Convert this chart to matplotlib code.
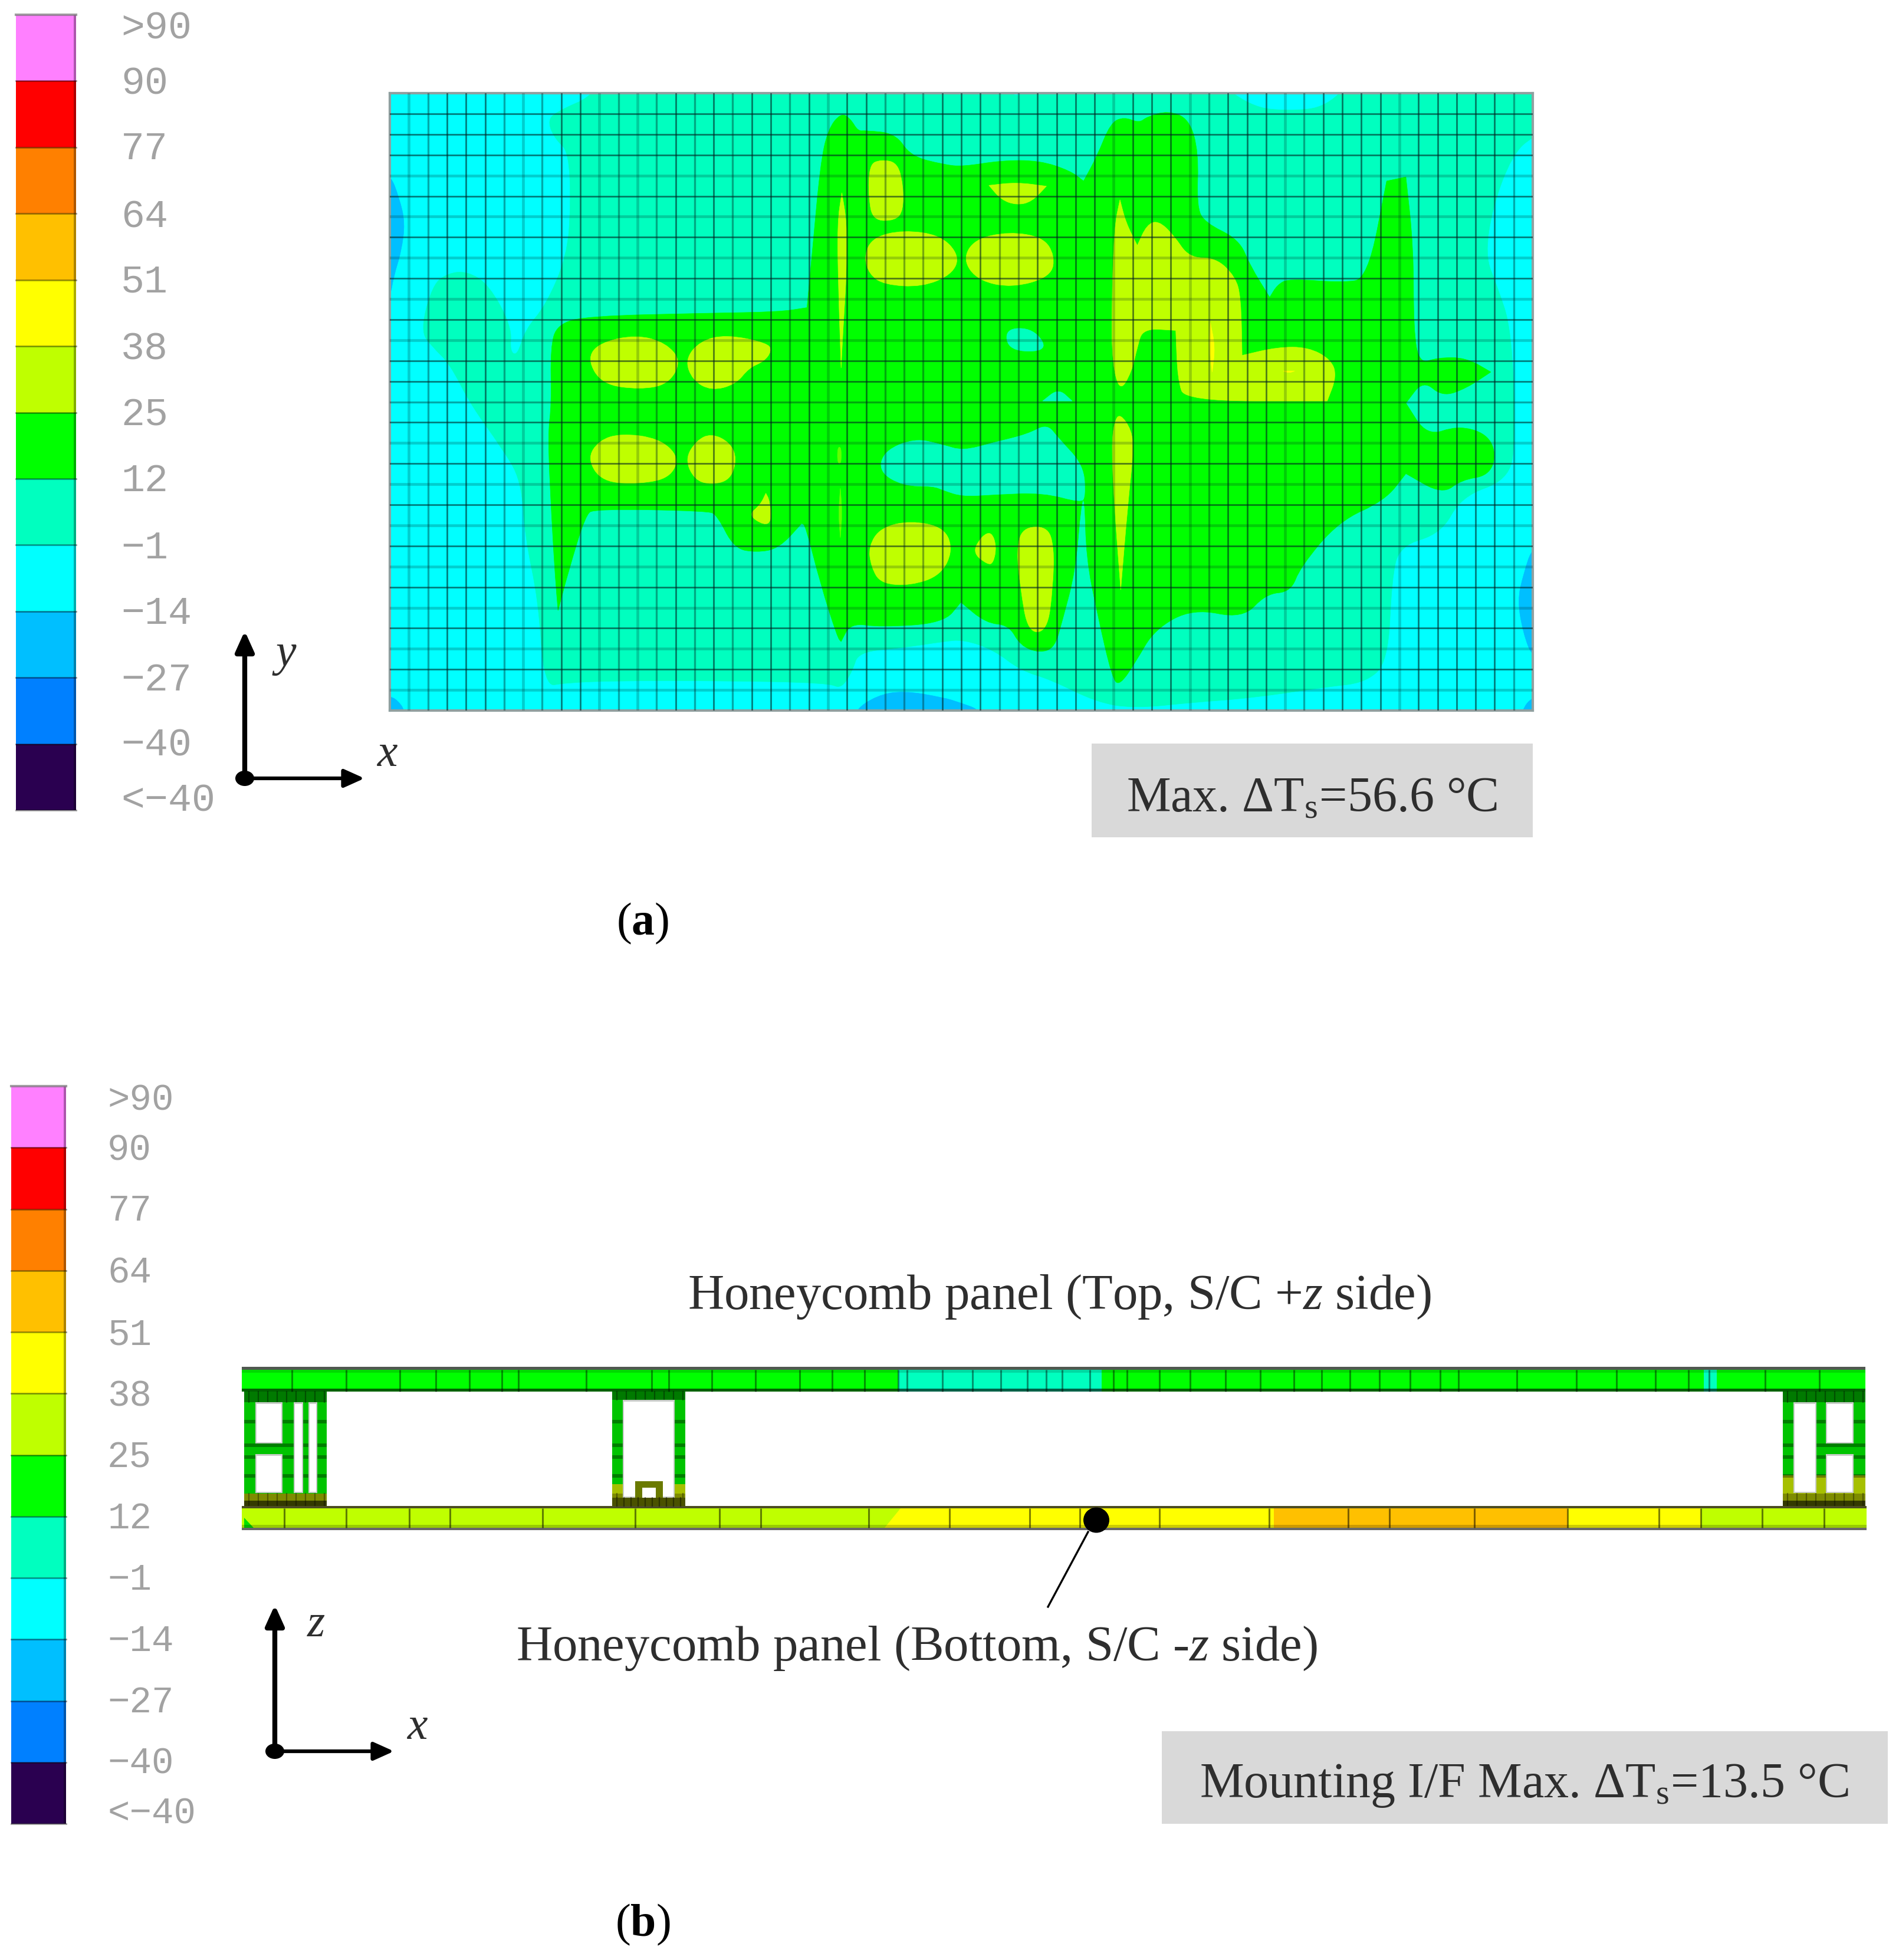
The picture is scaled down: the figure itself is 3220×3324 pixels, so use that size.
#!/usr/bin/env python3
"""Spacecraft panel temperature maps: (a) x-y plate view, (b) x-z section."""
import numpy as np
import matplotlib
matplotlib.use('Agg')
import matplotlib.pyplot as plt
from matplotlib.patches import PathPatch, Rectangle, Ellipse, Polygon
from matplotlib.path import Path

plt.rcParams['font.family'] = ['Liberation Serif', 'DejaVu Serif']
plt.rcParams['mathtext.fontset'] = 'custom'
plt.rcParams['mathtext.rm'] = 'Liberation Serif'
plt.rcParams['mathtext.it'] = 'Liberation Serif:italic'
plt.rcParams['mathtext.bf'] = 'Liberation Serif:bold'

# ---------------------------------------------------------------- legend
level_labels = ['>90', '90', '77', '64', '51', '38', '25', '12', '\u22121', '\u221214', '\u221227', '\u221240', '<\u221240']
level_colors = ['#FF80FF', '#FF0000', '#FF8000', '#FFC000', '#FFFF00', '#BFFF00', '#00FF00',
                '#00FFBF', '#00FFFF', '#00BFFF', '#0080FF', '#2A0050']

# ---------------------------------------------------------------- panel (a), mesh units (col, row from top)
mesh_cols = 60
mesh_rows = 30
mesh_col_weight = 'LMDDDMLMDDLMLMDMDMDDMDLDDMMMDD' + 'DMMDDDDLDDDLMDDDLMDDDDLDDDDDM'
mesh_row_weight = 'DDDLDLDLDLDLDDMDLDLDLDLDLDLDL'

region_spring = [(11.0, -2), (11.0, 0), (8.6, 0.95), (8.3, 1.45), (8.7, 2.25), (9.4, 2.85), (9.5, 5.5), (9.3, 7.9),
                 (8.2, 10.3), (7.1, 11.5), (6.7, 12.75), (6.3, 12.55), (6.4, 11.35), (5.2, 9.3), (4.05, 8.65),
                 (3.05, 8.75), (2.25, 9.3), (1.6, 11.55), (2.25, 12.35), (3.15, 13.15), (4.25, 15.15), (5.85, 17.2),
                 (6.9, 18.8), (7.1, 21.6), (7.8, 24.65), (8.1, 28.85), (9.2, 28.65), (12.1, 28.55), (17.1, 28.55),
                 (23.0, 28.65), (23.7, 28.95), (24.3, 28.05), (24.6, 27.15), (26.95, 26.95), (29.05, 26.65),
                 (30.1, 26.55), (31.7, 27.05), (33.1, 28.05), (34.7, 28.5), (37.1, 29.6), (39.1, 29.9), (42.2, 29.6),
                 (45.2, 29.4), (49.2, 28.85), (51.2, 28.65), (52.4, 27.65), (52.6, 23.6), (53.0, 22.0), (55.2, 21.4),
                 (56.25, 19.6), (58.7, 18.8), (59.1, 17.0), (58.9, 11.5), (58.1, 9.3), (57.5, 7.9), (57.9, 5.5),
                 (58.9, 3.05), (60, 2.05), (62, 1.5), (62, -2)]

region_green = [(23.69, 0.95), (23.0, 1.75), (22.6, 3.47), (22.2, 7.5), (21.9, 10.42), (21.9, 10.42), (20.43, 10.63),
                (16.68, 10.69), (10.37, 10.83), (8.79, 11.23), (8.43, 12.34), (8.49, 15.16), (8.29, 16.57),
                (8.49, 20.6), (8.69, 23.63), (8.83, 25.14), (8.83, 25.14), (9.38, 23.23), (10.27, 20.5), (10.76, 20.2),
                (16.68, 20.3), (17.18, 20.5), (18.07, 22.12), (19.25, 22.32), (20.43, 22.12), (21.62, 20.91),
                (21.62, 20.91), (21.82, 21.0), (22.6, 23.83), (23.5, 26.45), (23.69, 26.65), (23.69, 26.65),
                (24.19, 25.75), (25.76, 25.95), (29.07, 25.75), (29.98, 24.74), (29.98, 24.74), (31.29, 25.75),
                (32.5, 25.85), (33.1, 26.85), (34.1, 27.2), (34.9, 26.95), (35.3, 25.65), (36.0, 23.2), (36.28, 20.0),
                (36.48, 19.6), (36.56, 22.6), (37.13, 25.25), (37.93, 28.47), (38.33, 28.77), (39.14, 27.66),
                (40.15, 26.05), (42.16, 25.04), (44.78, 25.54), (45.99, 24.33), (47.3, 24.23), (47.8, 23.02),
                (49.82, 20.8), (52.23, 19.8), (53.34, 18.49), (53.34, 18.49), (55.25, 19.5), (56.26, 18.79), (57.67, 18.59),
                (58.1, 17.58), (57.6, 16.55), (56.06, 16.15), (54.45, 16.67), (53.34, 15.06), (53.34, 15.06), (54.25, 13.95),
                (55.25, 14.75), (56.5, 14.35), (57.8, 13.55), (57.8, 13.55), (56.5, 12.85), (55.0, 12.85), (54.05, 13.15), (53.74, 11.53),
                (53.74, 7.5), (53.34, 4.07), (53.34, 4.07), (52.33, 4.27), (52.33, 4.27), (51.33, 9.01), (50.02, 9.21), (47.2, 9.01),
                (46.59, 9.31), (46.19, 9.92), (46.19, 9.92), (45.18, 8.41), (44.58, 7.1), (42.77, 6.29), (42.36, 5.48), (42.46, 2.86),
                (41.96, 1.25), (40.85, 0.85), (39.74, 1.15), (39.34, 1.45), (38.54, 1.15), (37.83, 1.45), (37.13, 3.06),
                (36.42, 4.27), (36.42, 4.27), (35.72, 3.77), (34.1, 3.27), (32.09, 3.27), (30.08, 3.57), (29.07, 3.47), (27.34, 3.06),
                (26.55, 1.96), (24.98, 1.81), (24.58, 1.85), (24.19, 1.25)]

spring_holes = [
    [(25.67, 18.39), (25.96, 17.38), (27.54, 16.77), (29.02, 17.08), (30.08, 17.38), (31.69, 16.98), (33.5, 16.57),
     (34.5, 16.07), (35.1, 16.77), (36.42, 18.08), (36.52, 19.6), (36.28, 19.9), (34.3, 19.4), (31.69, 19.5),
     (30.08, 19.6), (29.07, 19.3), (28.53, 19.09), (26.95, 19.09)],
    [(32.29, 11.43), (33.8, 11.43), (34.6, 12.54), (32.5, 12.54)],
    [(34.27, 14.96), (34.27, 14.96), (35.1, 14.35), (35.82, 14.96), (35.82, 14.96)],
]

blobs_limegreen = [
    [(25.17, 3.47), (25.77, 3.23), (26.65, 3.37), (26.95, 4.48), (26.95, 5.69), (26.55, 6.19), (25.37, 6.19), (25.13, 5.08)],
    [(23.73, 4.84), (23.73, 4.84), (23.99, 6.29), (23.99, 8.51), (23.79, 11.53), (23.69, 13.35), (23.69, 13.35), (23.55, 9.52), (23.49, 6.29)],
    [(24.88, 7.9), (25.37, 7.0), (26.95, 6.65), (28.92, 6.9), (29.91, 7.9), (29.52, 8.81), (27.94, 9.42), (25.96, 9.31), (25.17, 8.81)],
    [(30.08, 8.1), (30.68, 7.1), (32.5, 6.73), (34.3, 7.0), (34.91, 7.9), (34.71, 8.91), (32.7, 9.46), (30.88, 9.11)],
    [(31.45, 4.48), (31.45, 4.48), (32.9, 4.33), (34.47, 4.52), (34.47, 4.52), (33.7, 5.28), (32.9, 5.44), (32.09, 5.18)],
    [(10.37, 12.94), (10.96, 12.14), (12.93, 11.73), (14.51, 12.14), (15.3, 13.04), (14.61, 14.15), (13.13, 14.4), (11.15, 14.15)],
    [(15.5, 12.94), (16.29, 12.04), (17.67, 11.73), (19.84, 12.14), (20.04, 12.54), (19.64, 13.04), (18.85, 13.35),
     (18.16, 14.15), (16.88, 14.46), (15.89, 13.95)],
    [(10.37, 17.78), (10.96, 16.88), (12.14, 16.53), (14.12, 16.77), (15.2, 17.68), (14.71, 18.69), (13.13, 18.99), (11.15, 18.89)],
    [(15.5, 17.78), (16.09, 16.88), (16.88, 16.53), (17.87, 16.98), (18.22, 17.78), (17.87, 18.79), (16.88, 19.03), (15.99, 18.79)],
    [(18.82, 20.5), (19.45, 20.0), (19.74, 19.44), (19.74, 19.44), (19.94, 19.8), (20.04, 20.81), (19.64, 21.0)],
    [(25.13, 22.02), (25.77, 21.11), (27.34, 20.77), (29.12, 21.11), (29.56, 22.22), (28.92, 23.43), (27.34, 23.93), (25.77, 23.83), (25.27, 23.02)],
    [(30.58, 22.32), (31.08, 21.51), (31.59, 21.31), (31.85, 22.02), (31.69, 22.82), (31.39, 22.92)],
    [(32.9, 22.22), (33.2, 21.11), (34.51, 21.05), (34.87, 22.02), (34.81, 24.03), (34.51, 26.15), (33.5, 26.21), (33.1, 24.03)],
    [(38.33, 5.18), (38.33, 5.18), (38.64, 6.29), (39.24, 7.4), (39.24, 7.4), (39.74, 6.39), (40.35, 6.19), (41.15, 6.9), (41.96, 8.0),
     (43.37, 8.0), (44.38, 8.91), (44.68, 9.92), (44.74, 12.74), (44.74, 12.74), (46.59, 12.34), (48.2, 12.34), (49.41, 12.94),
     (49.71, 13.75), (49.21, 14.96), (49.21, 14.96), (41.76, 14.96), (41.36, 13.95), (41.26, 11.53), (41.26, 11.53), (39.54, 11.43),
     (39.24, 12.34), (38.94, 13.55), (38.33, 14.52), (37.93, 13.15), (37.89, 10.52), (38.03, 6.49)],
    [(38.33, 15.56), (38.94, 16.37), (39.04, 17.38), (38.74, 20.0), (38.37, 24.13), (38.37, 24.13), (38.03, 20.0), (37.89, 17.18), (38.03, 15.97)],
]
blobs_faint = [
    [(23.5, 17.2), (23.7, 17.2), (23.7, 18.0), (23.5, 18.0)],
    [(23.65, 19.2), (23.65, 19.2), (23.75, 20.4), (23.65, 21.6), (23.65, 21.6), (23.55, 20.4)],
]
blobs_yellow = [
    [(43.07, 11.13), (43.07, 11.13), (43.33, 12.34), (43.17, 13.55), (43.17, 13.55), (43.0, 12.34)],
    [(46.9, 13.5), (46.9, 13.5), (47.5, 13.5), (47.5, 13.5), (47.2, 13.6)],
]
patches_cyan = [
    [(31.9, -1), (32.9, 0.45), (34.1, -1)],
    [(42.9, -1), (45.2, 0.65), (47.2, 0.85), (49.2, 0.65), (50.8, -1)],
    [(59.6, -1), (60.3, 0.7), (61, -1)],
]
patches_blue = [
    [(-1, 3.9), (0, 3.9), (0.5, 5.1), (0.8, 6.3), (0.6, 7.7), (0.2, 8.9), (0, 10), (-1, 10)],
    [(24.38, 31), (24.38, 30), (25.57, 29.27), (26.95, 29.03), (29.07, 29.37), (29.88, 29.6), (31.08, 30), (31.08, 31)],
    [(61, 22), (60, 22), (59.5, 23.4), (59.2, 24.65), (59.5, 26.25), (60, 27.45), (61, 27.45)],
    [(-1, 29.3), (0, 29.3), (0.4, 29.5), (0.8, 30), (0.8, 31), (-1, 31)],
    [(61, 29.3), (60, 29.3), (59.4, 30), (59.4, 31), (61, 31)],
]

# ---------------------------------------------------------------- panel (b), section along x
top_mesh_x = [495, 587, 678, 739, 796, 851, 879, 994, 1105, 1134, 1207, 1281, 1356, 1411, 1466, 1523, 1538, 1598, 1649,
              1697, 1742, 1774, 1801, 1848, 1888, 1911, 1966, 2018, 2078, 2137, 2194, 2241, 2289, 2339, 2391, 2442,
              2473, 2572, 2673, 2741, 2807, 2863, 2898, 2993, 3085]
bottom_mesh_x = [482, 587, 694, 763, 920, 1077, 1220, 1290, 1473, 1610, 1746, 1831, 1966, 2152, 2286, 2356, 2500, 2658,
                 2813, 2884, 2988, 3093]
top_bands_x = [410, 1523, 1868, 2889, 2911, 3163]
top_bands_color = ['#00FF00', '#00FFBF', '#00FF00', '#00FFBF', '#00FF00']
bottom_bands_x = [410, 1527, 2160, 2658, 2884, 3165]
bottom_bands_color = ['#BFFF00', '#FFFF00', '#FFC000', '#FFFF00', '#BFFF00']


def smooth_patch(points, color, zorder=2):
    # quadratic segments through edge midpoints, a repeated point keeps a sharp tip
    p = np.asarray(points, dtype=float)
    mids = (p + np.roll(p, -1, axis=0)) / 2
    verts = [mids[-1]]
    codes = [Path.MOVETO]
    for i in range(len(p)):
        verts += [p[i], mids[i]]
        codes += [Path.CURVE3, Path.CURVE3]
    verts.append(mids[-1])
    codes.append(Path.CLOSEPOLY)
    return PathPatch(Path(verts, codes), facecolor=color, edgecolor=color, lw=0.5, zorder=zorder)


W, H = 3220, 3324
fig = plt.figure(figsize=(W / 100, H / 100), dpi=100, facecolor='white')
ax = fig.add_axes([0, 0, 1, 1])
ax.set_xlim(0, W)
ax.set_ylim(H, 0)
ax.axis('off')

TICK_GRAY = '#A2A2A2'
INK = '#2E2E2E'


def draw_legend(x0, x1, y_edges, label_x, label_y, size):
    for i, c in enumerate(level_colors):
        ax.add_patch(Rectangle((x0, y_edges[i]), x1 - x0, y_edges[i + 1] - y_edges[i], facecolor=c, edgecolor='none'))
        # darker strip at right side and separator, as in the screen capture
        ax.add_patch(Rectangle((x1 - 4, y_edges[i]), 4, y_edges[i + 1] - y_edges[i], facecolor='k', alpha=0.32, edgecolor='none'))
        ax.plot([x0, x1], [y_edges[i + 1]] * 2, color='k', alpha=0.4, lw=2)
    ax.plot([x0, x1], [y_edges[0]] * 2, color='#777777', alpha=0.7, lw=3)
    for t, y in zip(level_labels, label_y):
        ax.text(label_x, y, t, family='Liberation Mono', fontsize=size, color=TICK_GRAY, va='center', ha='left')


def draw_axes_mark(ox, oy, top, right, v_name, v_pos, h_name, h_pos):
    ax.annotate('', xy=(ox, top), xytext=(ox, oy),
                arrowprops=dict(arrowstyle='-|>,head_width=0.36,head_length=0.8', mutation_scale=26, lw=6,
                                color='black', shrinkA=0, shrinkB=0))
    ax.annotate('', xy=(right, oy), xytext=(ox, oy),
                arrowprops=dict(arrowstyle='-|>,head_width=0.36,head_length=0.8', mutation_scale=26, lw=4.5,
                                color='black', shrinkA=0, shrinkB=0))
    ax.add_patch(Ellipse((ox, oy), 32, 26, facecolor='black', edgecolor='none', zorder=5))
    ax.text(v_pos[0], v_pos[1], '$\\mathit{%s}$' % v_name, fontsize=56, color=INK, ha='center', va='center')
    ax.text(h_pos[0], h_pos[1], '$\\mathit{%s}$' % h_name, fontsize=56, color=INK, ha='center', va='center')


# ================================================================ panel (a)
draw_legend(27, 129, np.linspace(25, 1374, 13),
            205, [49, 142, 253, 368, 479, 593, 704, 816, 930, 1041, 1154, 1265, 1358], 48)
draw_axes_mark(415, 1320, 1070, 618, 'y', (483, 1112), 'x', (657, 1280))

ax_a = fig.add_axes([661 / W, 1 - 1205 / H, (2599 - 661) / W, (1205 - 158) / H])
ax_a.set_xlim(0, mesh_cols)
ax_a.set_ylim(mesh_rows, 0)
ax_a.set_xticks([])
ax_a.set_yticks([])
ax_a.set_facecolor('#00FFFF')
for s in ax_a.spines.values():
    s.set_color('#8FA0A0')
    s.set_linewidth(3)

ax_a.add_patch(smooth_patch(region_spring, '#00FFBF', 2))
for pts in patches_cyan:
    ax_a.add_patch(smooth_patch(pts, '#00FFFF', 2.1))
for pts in patches_blue:
    ax_a.add_patch(smooth_patch(pts, '#00BFFF', 2.2))
ax_a.add_patch(smooth_patch(region_green, '#00FF00', 3))
for pts in spring_holes:
    ax_a.add_patch(smooth_patch(pts, '#00FFBF', 3.1))
for pts in blobs_limegreen:
    ax_a.add_patch(smooth_patch(pts, '#BFFF00', 4))
for pts in blobs_faint:
    ax_a.add_patch(smooth_patch(pts, '#60FF00', 4))
for pts in blobs_yellow:
    ax_a.add_patch(smooth_patch(pts, '#FFFF00', 5))

weight_style = {'D': (2.0, 0.58), 'M': (2.4, 0.38), 'L': (3.4, 0.22)}
for i, w in enumerate(mesh_col_weight):
    lw, al = weight_style[w]
    ax_a.axvline(i + 1, color='#002020', lw=lw, alpha=al, zorder=6)
for i, w in enumerate(mesh_row_weight):
    lw, al = weight_style[w]
    ax_a.axhline(i + 1, color='#002020', lw=lw, alpha=al, zorder=6)

ax.add_patch(Rectangle((1851, 1261), 748, 159, facecolor='#D9D9D9', edgecolor='none'))
ax.text(2225, 1355, 'Max. \u0394T$_{\\mathrm{s}}$=56.6 \u00b0C', fontsize=60.5, color=INK, ha='center', va='center')
ax.text(1090, 1566, '($\\mathbf{a}$)', fontsize=56, color='black', ha='center', va='center')

# ================================================================ panel (b)
draw_legend(19, 112, np.linspace(1842, 3093, 13),
            182, [1866, 1951, 2054, 2159, 2264, 2368, 2472, 2576, 2680, 2783, 2887, 2991, 3076], 45)
draw_axes_mark(466, 2970, 2722, 668, 'z', (536, 2756), 'x', (708, 2930))


def block_rect(x0, x1, y0, y1, color, z=2, alpha=1.0):
    ax.add_patch(Rectangle((x0, y0), x1 - x0, y1 - y0, facecolor=color, edgecolor='none', zorder=z, alpha=alpha))


# top honeycomb plate
for x0, x1, c in zip(top_bands_x[:-1], top_bands_x[1:], top_bands_color):
    block_rect(x0, x1, 2323, 2360, c)
block_rect(410, 3163, 2318, 2323, '#505850', 3)
block_rect(410, 3163, 2323, 2328, 'k', 3, 0.15)
block_rect(410, 3163, 2355, 2360, 'k', 3, 0.62)
for x in top_mesh_x:
    ax.plot([x, x], [2323, 2360], color='k', lw=2.2, alpha=0.42, zorder=4, solid_capstyle='butt')

# bottom honeycomb plate
for x0, x1, c in zip(bottom_bands_x[:-1], bottom_bands_x[1:], bottom_bands_color):
    block_rect(x0, x1, 2554, 2591, c)
ax.add_patch(Polygon([(1500, 2591), (1527, 2558), (1527, 2591)], facecolor='#FFFF00', edgecolor='none', zorder=2.1))
ax.add_patch(Polygon([(414, 2574), (430, 2591), (414, 2591)], facecolor='#00E000', edgecolor='none', zorder=2.5))
block_rect(410, 3165, 2554, 2558, '#4C4C22', 3)
block_rect(410, 3165, 2586, 2591, 'k', 3, 0.2)
block_rect(410, 3165, 2591, 2595, '#686868', 3)
for x in bottom_mesh_x:
    ax.plot([x, x], [2558, 2591], color='k', lw=2.2, alpha=0.5, zorder=4, solid_capstyle='butt')


def draw_support(x0, x1, windows, low_y, top_end=2378, band_y=None):
    # green frame, olive where the hotter bottom reaches up, white openings on top
    block_rect(x0, x1, 2360, 2554, '#00C400', 2)
    block_rect(x0, x1, low_y, 2554, '#A6C000', 2.1)
    block_rect(x0, x1, 2360, top_end, '#007A00', 2.2)
    block_rect(x0, x1, 2533, 2545, '#7E8C00', 2.3)
    block_rect(x0, x1, 2545, 2554, '#333A00', 2.4)
    for y in (2408, 2448, 2468, 2500):
        block_rect(x0, x1, y, y + 6, 'k', 2.5, 0.35)
    for x in np.arange(x0 + 8, x1, 16):
        ax.plot([x, x], [2360, top_end], color='k', lw=1.6, alpha=0.35, zorder=2.6)
        ax.plot([x, x], [2533, 2554], color='k', lw=1.6, alpha=0.35, zorder=2.6)
    for wx0, wx1, wy0, wy1 in windows:
        block_rect(wx0, wx1, wy0, wy1, '#C8CCC8', 2.7)
        block_rect(wx0 + 2, wx1 - 2, wy0 + 3, wy1 - 2, 'white', 2.8)


draw_support(414, 554, [(433, 479, 2378, 2448), (433, 479, 2466, 2532), (498, 514, 2378, 2532), (523, 538, 2378, 2532)], 2533)
draw_support(3023, 3163, [(3041, 3080, 2378, 2532), (3096, 3143, 2378, 2448), (3096, 3143, 2466, 2532)], 2502)
draw_support(1038, 1162, [(1056, 1144, 2374, 2540)], 2517, top_end=2374)
block_rect(1077, 1124, 2512, 2540, '#6A7A00', 3)
block_rect(1089, 1112, 2523, 2540, 'white', 3.1)
block_rect(1038, 1162, 2540, 2554, '#4A5200', 3)
for x in np.arange(1046, 1162, 12):
    ax.plot([x, x], [2540, 2554], color='k', lw=1.6, alpha=0.4, zorder=3.2)

# thermocouple dot and leader
ax.plot([1845, 1777], [2598, 2725], color='black', lw=2.4, zorder=6)
ax.add_patch(Ellipse((1859, 2578), 44, 43, facecolor='black', edgecolor='none', zorder=7))

ax.text(1796, 2200, 'Honeycomb panel (Top, S/C +$\\mathit{z}$ side)', fontsize=61, color=INK, ha='center', va='center')
ax.text(1554, 2796, 'Honeycomb panel (Bottom, S/C -$\\mathit{z}$ side)', fontsize=61, color=INK, ha='center', va='center')
ax.add_patch(Rectangle((1970, 2936), 1231, 157, facecolor='#D9D9D9', edgecolor='none'))
ax.text(2584, 3029, 'Mounting I/F Max. \u0394T$_{\\mathrm{s}}$=13.5 \u00b0C', fontsize=60.5, color=INK, ha='center', va='center')
ax.text(1090, 3264, '($\\mathbf{b}$)', fontsize=56, color='black', ha='center', va='center')

plt.savefig('out.png', dpi=100)
plt.close()
